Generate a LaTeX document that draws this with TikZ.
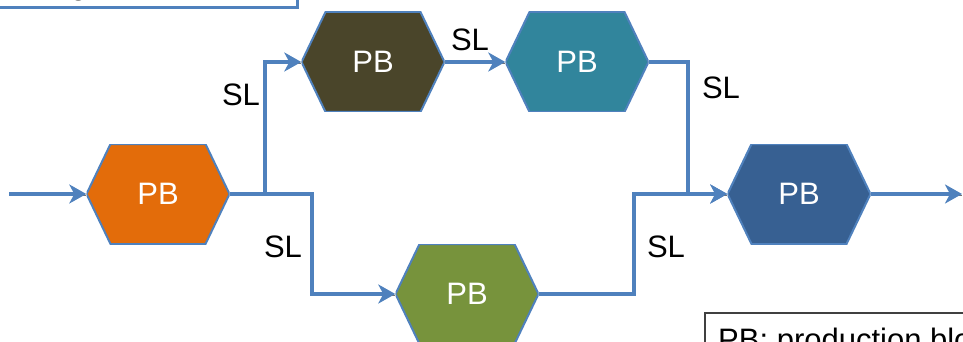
\documentclass[tikz,border=0pt]{standalone}
\usepackage{fontspec}
\setmainfont{Liberation Sans}
\usetikzlibrary{arrows.meta}
\definecolor{lineBlue}{HTML}{4F81BD}
\definecolor{pbOrange}{HTML}{E36C0A}
\definecolor{pbBrown}{HTML}{4A452A}
\definecolor{pbTeal}{HTML}{31859C}
\definecolor{pbGreen}{HTML}{77933C}
\definecolor{pbNavy}{HTML}{376092}

\begin{document}
\begin{tikzpicture}[x=1pt,y=-1pt,
  every node/.style={font=\fontsize{31}{37}\selectfont},
  block node/.style={minimum width=143pt,minimum height=100pt,inner sep=0pt,text=white,
    path picture={\fill[#1,draw=lineBlue,line width=2pt]
      (path picture bounding box.west)
      -- ([xshift=24pt]path picture bounding box.north west)
      -- ([xshift=-24pt]path picture bounding box.north east)
      -- (path picture bounding box.east)
      -- ([xshift=-24pt]path picture bounding box.south east)
      -- ([xshift=24pt]path picture bounding box.south west) -- cycle;}},
  link/.style={draw=lineBlue,line width=4pt,-{Stealth[length=17pt,width=19pt,inset=5pt]},
    preaction={draw=black!55,line width=1.5pt,arrows=-,transform canvas={yshift=-1.5pt}}}]

  \useasboundingbox (0,0) rectangle (963,342);
  \clip (0,0) rectangle (963,342);

  \node[block node=pbOrange] (1) at (158,194) {PB};
  \node[block node=pbBrown] (2) at (373,62) {PB};
  \node[block node=pbTeal] (3) at (577,62) {PB};
  \node[block node=pbGreen] (4) at (467,294) {PB};
  \node[block node=pbNavy] (5) at (799,194) {PB};

  \coordinate (in) at (9,194);
  \coordinate (out) at (962,194);

  \draw[link] (in) -- (1.west);
  \draw[link] (1.east) -- ++(35,0) |- (2.west);
  \draw[link] (1.east) -- ++(82,0) |- (4.west);
  \draw[link] (2.east) -- (3.west);
  \draw[link] (3.east) -- ++(39,0) |- (5.west);
  \draw[link] (4.east) -- ++(95,0) |- (5.west);
  \draw[link] (5.east) -- (out);

  \node (sl1) at (241,95) {SL};
  \node (sl2) at (470,40) {SL};
  \node (sl3) at (721,88) {SL};
  \node (sl4) at (283,247) {SL};
  \node (sl5) at (666,247) {SL};

  % legends, cut by the frame
  \draw[draw=lineBlue,line width=3pt] (-20,-80) rectangle (297,8);
  \node[anchor=base west,inner sep=0pt] (key1) at (-54,-5) {SL: storage};
  \draw[draw=black!75,line width=1.5pt] (705,313) rectangle (1000,400);
  \node[anchor=base west,inner sep=0pt] (key2) at (718,350) {PB: production block};
\end{tikzpicture}
\end{document}
